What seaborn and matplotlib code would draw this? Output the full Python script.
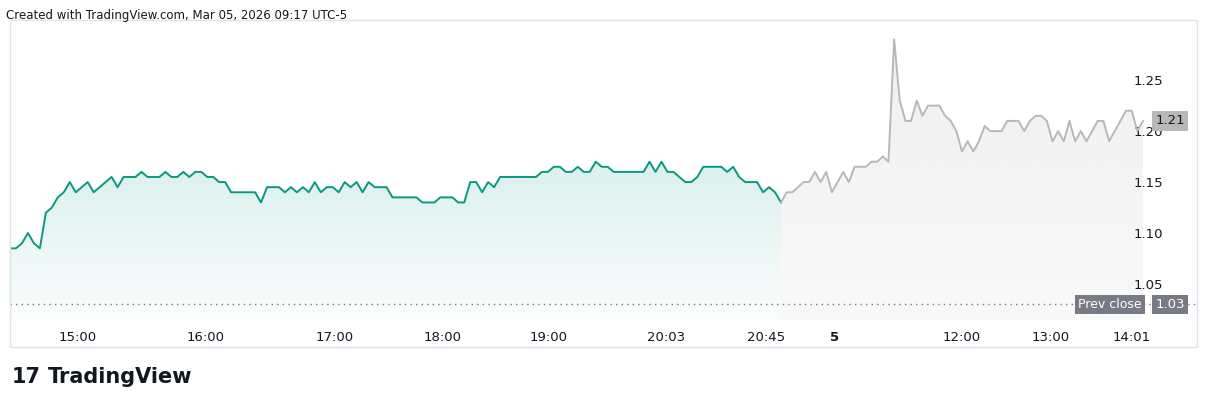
import numpy as np
import matplotlib
matplotlib.use("Agg")
import matplotlib.pyplot as plt
import seaborn as sns
import pandas as pd
from matplotlib.patches import Rectangle

green_vals = [1.085,1.085,1.09,1.10,1.09,1.085,1.12,1.125,1.135,1.14,1.15,1.14,1.145,1.15,1.14,1.145,1.15,1.155,1.145,1.155,
 1.155,1.155,1.16,1.155,1.155,1.155,1.16,1.155,1.155,1.16,1.155,1.16,1.16,1.155,1.155,1.15,1.15,1.14,1.14,1.14,
 1.14,1.14,1.13,1.145,1.145,1.145,1.14,1.145,1.14,1.145,1.14,1.15,1.14,1.145,1.145,1.14,1.15,1.145,1.15,1.14,
 1.15,1.145,1.145,1.145,1.135,1.135,1.135,1.135,1.135,1.13,1.13,1.13,1.135,1.135,1.135,1.13,1.13,1.15,1.15,1.14,
 1.15,1.145,1.155,1.155,1.155,1.155,1.155,1.155,1.155,1.16,1.16,1.165,1.165,1.16,1.16,1.165,1.16,1.16,1.17,1.165,
 1.165,1.16,1.16,1.16,1.16,1.16,1.16,1.17,1.16,1.17,1.16,1.16,1.155,1.15,1.15,1.155,1.165,1.165,1.165,1.165,
 1.16,1.165,1.155,1.15,1.15,1.15,1.14,1.145,1.14,1.13]
gray_vals = [1.13,1.14,1.14,1.145,1.15,1.15,1.16,1.15,1.16,1.14,1.15,1.16,1.15,1.165,1.165,1.165,1.17,1.17,1.175,1.17,
 1.29,1.23,1.21,1.21,1.23,1.215,1.225,1.225,1.225,1.215,1.21,1.20,1.18,1.19,1.18,1.19,1.205,1.20,1.20,1.20,
 1.21,1.21,1.21,1.20,1.21,1.215,1.215,1.21,1.19,1.20,1.19,1.21,1.19,1.20,1.19,1.20,1.21,1.21,1.19,1.20,
 1.21,1.22,1.22,1.20,1.21]
tick_labels = ["15:00","16:00","17:00","18:00","19:00","20:03","20:45","5","12:00","13:00","14:01"]
tick_px = [78,206,335,443,549,666,766,835,962,1051,1132]
y_ticks = [1.05,1.10,1.15,1.20,1.25]
prev_close = 1.03
last_price = 1.21

W, H = 1208, 407
fig = plt.figure(figsize=(W/100, H/100), dpi=100)
fig.patch.set_facecolor("white")
ax = fig.add_axes([10/W, 1-320/H, (1197-10)/W, 300/H])
ax.set_facecolor("white")
ymin, ymax = 1.0147, 1.309
ax.set_xlim(10, 1197)
ax.set_ylim(ymin, ymax)

xg = np.linspace(10, 781, len(green_vals))
xr = np.linspace(781, 1143, len(gray_vals))
df = pd.concat([pd.DataFrame({"x": xg, "y": green_vals, "s": "g"}),
                pd.DataFrame({"x": xr, "y": gray_vals, "s": "r"})])

def grad_fill(x, y, rgb, a_top, a_bot, ytop):
    poly = ax.fill_between(x, y, ymin, color="none", lw=0)
    n = 200
    yy = np.linspace(ymax, ymin, n)
    a = a_bot + (a_top - a_bot) * np.clip((yy - ymin) / (ytop - ymin), 0, 1)
    grad = np.zeros((n, 1, 4))
    grad[..., :3] = rgb
    grad[..., 3] = a[:, None]
    im = ax.imshow(grad, aspect="auto", extent=[x.min(), x.max(), ymin, ymax],
                   origin="upper", zorder=1, interpolation="bilinear")
    im.set_clip_path(poly.get_paths()[0], transform=ax.transData)

grad_fill(xg, np.array(green_vals), (8/255, 153/255, 129/255), 0.14, 0.02, 1.16)
grad_fill(xr, np.array(gray_vals), (0.80, 0.80, 0.80), 0.30, 0.12, 1.29)

sns.lineplot(data=df, x="x", y="y", hue="s", palette={"g": "#089981", "r": "#b8b8b8"},
             legend=False, ax=ax, lw=1.4, zorder=3, estimator=None, sort=False)

ax.axhline(prev_close, color="#787b86", lw=1, ls=(0, (1, 3)), zorder=2)

for s in ax.spines.values():
    s.set_visible(False)
ax.yaxis.tick_right()
ax.set_yticks(y_ticks)
ax.set_yticklabels([f"{v:.2f}" for v in y_ticks], fontsize=9.5, color="#131722")
ax.tick_params(axis="y", length=0, pad=-46)
ax.set_xticks(tick_px)
ax.set_xticklabels(tick_labels, fontsize=9.5, color="#131722")
ax.tick_params(axis="x", length=0, pad=8)
for lab in ax.get_xticklabels():
    if lab.get_text() == "5":
        lab.set_fontweight("bold")
ax.set_xlabel(""); ax.set_ylabel("")
ax.grid(False)

ax.text(1170, last_price, f"{last_price:.2f}", ha="center", va="center", fontsize=9.5, color="#131722",
        bbox=dict(boxstyle="square,pad=0.25", fc="#b8b8b8", ec="none"), zorder=5)
ax.text(1170, prev_close, f"{prev_close:.2f}", ha="center", va="center", fontsize=9.5, color="white",
        bbox=dict(boxstyle="square,pad=0.25", fc="#787b86", ec="none"), zorder=5)
ax.text(1110, prev_close, "Prev close", ha="center", va="center", fontsize=9, color="white",
        bbox=dict(boxstyle="square,pad=0.25", fc="#787b86", ec="none"), zorder=5)

fig.patches.append(Rectangle((10/W, 1-347/H), 1187/W, 327/H, transform=fig.transFigure,
                             fill=False, ec="#e0e3eb", lw=1))
fig.text(6/W, 1-16/H, "Created with TradingView.com, Mar 05, 2026 09:17 UTC-5", fontsize=8.5, color="#131722", va="center")
fig.text(12/W, 1-377/H, "17", fontsize=15, fontweight="bold", color="#131722", va="center")
fig.text(48/W, 1-377/H, "TradingView", fontsize=15, fontweight="bold", color="#131722", va="center")

fig.savefig("out.png", dpi=100, facecolor="white")
